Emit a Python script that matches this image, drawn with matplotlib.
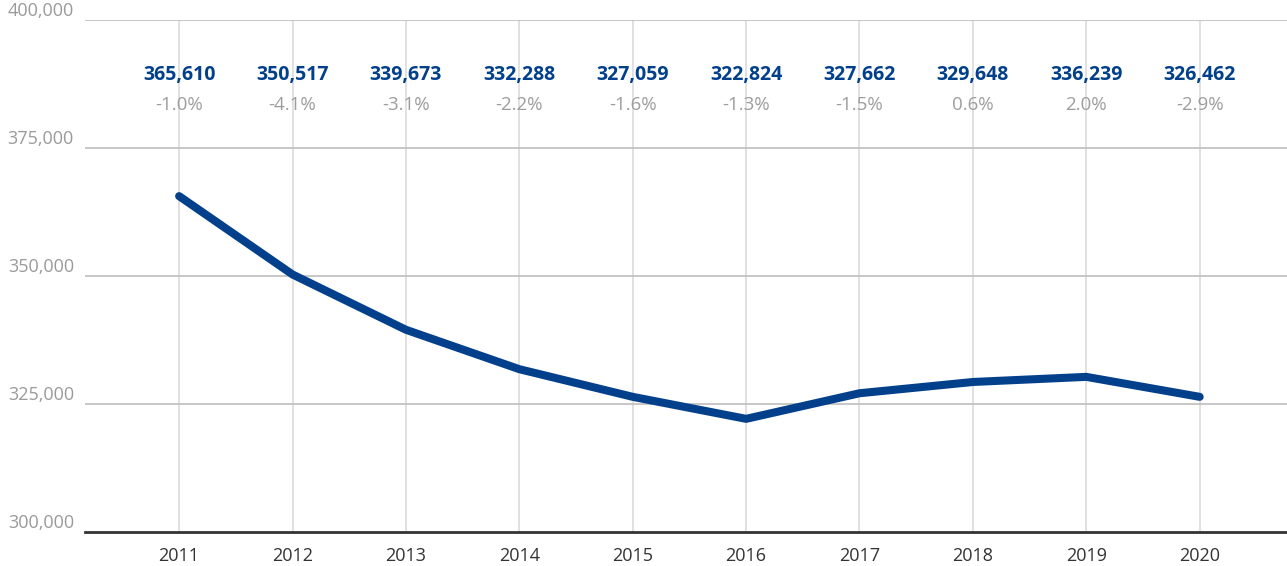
import matplotlib.pyplot as plt
from matplotlib.ticker import FuncFormatter

# data
years = [2011, 2012, 2013, 2014, 2015, 2016, 2017, 2018, 2019, 2020]
line_values = [365600, 350300, 339500, 331800, 326400, 322100, 327100, 329300, 330300, 326400]
value_labels = ["365,610", "350,517", "339,673", "332,288", "327,059",
                "322,824", "327,662", "329,648", "336,239", "326,462"]
pct_labels = ["-1.0%", "-4.1%", "-3.1%", "-2.2%", "-1.6%",
              "-1.3%", "-1.5%", "0.6%", "2.0%", "-2.9%"]
y_ticks = [300000, 325000, 350000, 375000, 400000]

plt.rcParams['font.family'] = ['Open Sans', 'DejaVu Sans']

blue = "#02408c"
fig = plt.figure(figsize=(12.87, 5.66), dpi=100)
ax = fig.add_axes([85 / 1287, 1 - 532 / 566, 1 - 85 / 1287, (532 - 20) / 566])

# vertical gridlines at each year
for yr in years:
    ax.axvline(yr, color="#dcdcdc", lw=1.2, zorder=0)
# horizontal gridlines
for yt in y_ticks[1:]:
    ax.axhline(yt, color="#bdbdbd", lw=1.2, zorder=0)

ax.plot(years, line_values, color=blue, lw=5.8, solid_capstyle="round",
        solid_joinstyle="round", zorder=3)

ax.set_xlim(years[0] - 0.83, years[-1] + 0.77)
ax.set_ylim(300000, 400000)
ax.set_xticks(years)
ax.set_yticks(y_ticks)
ax.yaxis.set_major_formatter(FuncFormatter(lambda v, p: f"{int(v):,}"))

for s in ["top", "right", "left"]:
    ax.spines[s].set_visible(False)
ax.spines["bottom"].set_color("#333333")
ax.spines["bottom"].set_linewidth(2)

ax.tick_params(axis="y", length=0, pad=8, labelsize=13, labelcolor="#9a9a9a")
ax.tick_params(axis="x", length=0, pad=11, labelsize=13, labelcolor="#333333")
for lbl in ax.get_yticklabels():
    lbl.set_verticalalignment("bottom")

# value + change labels above each year
trans = ax.get_xaxis_transform()
for yr, v, p in zip(years, value_labels, pct_labels):
    ax.text(yr, 1 - 55 / 512, v, transform=trans, ha="center", va="center",
            color=blue, fontsize=14, fontweight="bold")
    ax.text(yr, 1 - 85 / 512, p, transform=trans, ha="center", va="center",
            color="#9d9d9d", fontsize=13.5)

plt.savefig("out.png", dpi=100)
